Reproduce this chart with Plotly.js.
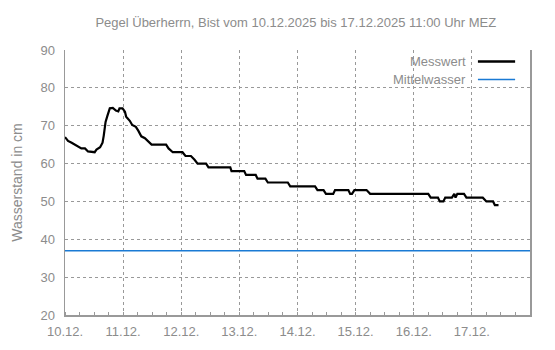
<!DOCTYPE html>
<html>
<head>
<meta charset="utf-8">
<script src="https://cdn.plot.ly/plotly-3.0.1.min.js"></script>
<style>html,body{margin:0;padding:0;background:#fff;}#chart{width:555px;height:350px;}</style>
</head>
<body>
<div id="chart"></div>
<script>
// Messwert (water level in cm)
const times = [
  "2025-12-10 00:00","2025-12-10 01:15","2025-12-10 02:45","2025-12-10 04:00","2025-12-10 05:30",
  "2025-12-10 06:45","2025-12-10 08:15","2025-12-10 09:30","2025-12-10 12:15","2025-12-10 13:00",
  "2025-12-10 14:30","2025-12-10 15:30","2025-12-10 16:00","2025-12-10 16:45","2025-12-10 17:30",
  "2025-12-10 18:30","2025-12-10 19:45","2025-12-10 21:00","2025-12-10 22:00","2025-12-10 22:30",
  "2025-12-10 23:45","2025-12-11 00:45","2025-12-11 01:15","2025-12-11 02:45","2025-12-11 03:45",
  "2025-12-11 05:15","2025-12-11 06:15","2025-12-11 07:30","2025-12-11 09:00","2025-12-11 10:15",
  "2025-12-11 11:45","2025-12-11 17:45","2025-12-11 18:45","2025-12-11 20:30","2025-12-12 00:30",
  "2025-12-12 01:45","2025-12-12 04:00","2025-12-12 05:30","2025-12-12 06:45","2025-12-12 10:15",
  "2025-12-12 11:15","2025-12-12 20:15","2025-12-12 20:45","2025-12-13 02:00","2025-12-13 02:45",
  "2025-12-13 06:45","2025-12-13 07:30","2025-12-13 10:45","2025-12-13 11:45","2025-12-13 20:00",
  "2025-12-13 21:00","2025-12-14 07:15","2025-12-14 08:15","2025-12-14 10:45","2025-12-14 11:45",
  "2025-12-14 14:45","2025-12-14 15:30","2025-12-14 21:00","2025-12-14 21:45","2025-12-14 22:30",
  "2025-12-14 23:30","2025-12-15 04:30","2025-12-15 06:00","2025-12-16 06:00","2025-12-16 07:00",
  "2025-12-16 10:00","2025-12-16 10:45","2025-12-16 12:15","2025-12-16 13:00","2025-12-16 15:45",
  "2025-12-16 16:45","2025-12-16 17:15","2025-12-16 18:00","2025-12-16 20:45","2025-12-16 21:45",
  "2025-12-17 04:30","2025-12-17 06:00","2025-12-17 08:45","2025-12-17 09:30","2025-12-17 11:00"
];
const levels = [
  67, 66, 65.5, 65, 64.3,
  64, 64, 63.2, 63, 63.7,
  64.3, 65.5, 67.4, 71, 72.6,
  74.6, 74.7, 74, 73.8, 74.6,
  74.6, 73.7, 72.4, 71.3, 70.2,
  69.7, 68.7, 67.2, 66.7, 65.8,
  65, 65, 64, 63, 63,
  62, 62, 61, 60, 60,
  59, 59, 58, 58, 57,
  57, 56, 56, 55, 55,
  54, 54, 53, 53, 52,
  52, 53, 53, 52, 52,
  53, 53, 52, 52, 51,
  51, 50, 50, 51, 51,
  52, 51, 52, 52, 51,
  51, 50, 50, 49, 49
];
// Mittelwasser
const mwTimes = ["2025-12-10 00:00", "2025-12-18 00:00"];
const mwLevels = [37, 37];

const seriesNames = ["Messwert", "Mittelwasser"];
const seriesColors = ["#000000", "#1a7ad4"];
const tickVals = ["2025-12-10","2025-12-11","2025-12-12","2025-12-13","2025-12-14","2025-12-15","2025-12-16","2025-12-17"];
const tickText = ["10.12.","11.12.","12.12.","13.12.","14.12.","15.12.","16.12.","17.12."];
const titleText = "Pegel Überherrn, Bist vom 10.12.2025 bis 17.12.2025 11:00 Uhr MEZ";
const yTitle = "Wasserstand in cm";

const gray = "#8c8c8c";
const lineGray = "#999999";
const fontFam = "Liberation Sans, Arial, sans-serif";

const traces = [
  {x: mwTimes, y: mwLevels, mode: "lines", name: seriesNames[1], line: {color: seriesColors[1], width: 1.5}, hoverinfo: "skip"},
  {x: times, y: levels, mode: "lines", name: seriesNames[0], line: {color: seriesColors[0], width: 2.2}}
];

const legendRows = [
  {name: seriesNames[0], color: seriesColors[0], width: 2.5, y: 0.957},
  {name: seriesNames[1], color: seriesColors[1], width: 1.5, y: 0.889}
];
const annotations = [];
const shapes = [];
legendRows.forEach(r => {
  annotations.push({xref: "paper", yref: "paper", x: 0.866, y: r.y, xanchor: "right", yanchor: "middle",
    text: r.name, showarrow: false, font: {family: fontFam, size: 13, color: gray}});
  shapes.push({type: "line", xref: "paper", yref: "paper", x0: 0.888, x1: 0.968, y0: r.y, y1: r.y,
    line: {color: r.color, width: r.width}});
});

const layout = {
  width: 555, height: 350,
  margin: {l: 65, r: 25, t: 50, b: 35},
  paper_bgcolor: "#ffffff", plot_bgcolor: "#ffffff",
  showlegend: false,
  font: {family: fontFam, size: 13, color: gray},
  title: {text: titleText, x: 0.533, xanchor: "center", y: 0.937, yanchor: "middle",
    font: {family: fontFam, size: 13, color: gray}},
  xaxis: {
    type: "date",
    range: ["2025-12-10 00:00", "2025-12-18 00:00"],
    tickvals: tickVals, ticktext: tickText,
    showgrid: true, gridcolor: lineGray, griddash: "3px,3px", gridwidth: 1,
    showline: true, linecolor: lineGray, linewidth: 1.5,
    ticks: "", zeroline: false, ticklabelstandoff: 4,
    tickfont: {family: fontFam, size: 13, color: gray},
    minor: {dtick: 6 * 3600 * 1000, ticks: "inside", ticklen: 3, tickcolor: lineGray, tickwidth: 1, showgrid: false}
  },
  yaxis: {
    range: [20, 90], dtick: 10, tick0: 20,
    showgrid: true, gridcolor: lineGray, griddash: "3px,3px", gridwidth: 1,
    showline: true, mirror: true, linecolor: lineGray, linewidth: 1.5,
    ticks: "", zeroline: false, ticklabelstandoff: 6,
    tickfont: {family: fontFam, size: 13, color: gray},
    title: {text: yTitle, font: {family: fontFam, size: 14, color: gray}, standoff: 14}
  },
  annotations: annotations,
  shapes: shapes
};

Plotly.newPlot("chart", traces, layout, {displayModeBar: false, staticPlot: true});
</script>
</body>
</html>
